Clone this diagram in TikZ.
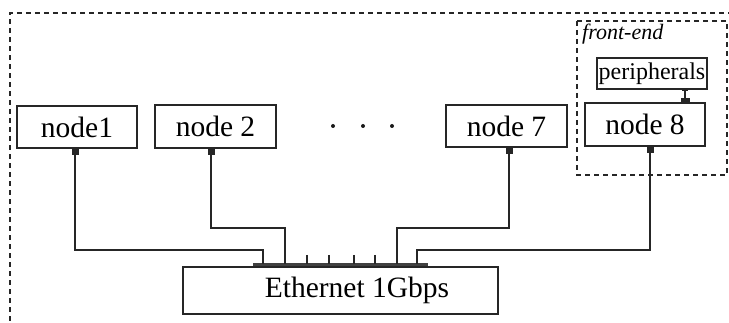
\documentclass[tikz,border=0pt]{standalone}
\usepackage{fontspec}
\setmainfont{Liberation Serif}
\usetikzlibrary{arrows.meta}
\begin{document}
\begin{tikzpicture}[x=1pt,y=-1pt,
  box/.style={draw=black!85, line width=1.4pt, inner sep=0pt, font=\fontsize{29.5}{31}\selectfont},
  smallbox/.style={draw=black!85, line width=1.4pt, inner sep=0pt, font=\fontsize{24}{26}\selectfont},
  frame/.style={draw=black!85, line width=1.3pt, dash pattern=on 5pt off 4pt},
  wire/.style={draw=black!85, line width=1.4pt},
  porttick/.style={draw=black!85, line width=2.2pt},
  busbar/.style={draw=black!75, line width=3pt},
  dotmark/.style={circle, fill=black!90, inner sep=0pt, minimum size=4pt},
  sq/.style={{Square[length=6.5pt,width=7pt]}-}
]
\useasboundingbox (0,0) rectangle (729,323);

% outer dashed frame (extends past the right and bottom edges)
\draw[frame] (10,330) -- (10,13) -- (740,13);
% front-end frame
\draw[frame] (577,21) rectangle (727,175);
\node[anchor=base west, inner sep=0pt, font=\fontsize{22}{24}\selectfont\itshape] (fe) at (582,40) {front-end};

% nodes
\node[box, minimum width=120pt, minimum height=42pt] (n1) at (77,127) {node1};
\node[box, minimum width=121pt, minimum height=43pt] (n2) at (215.5,126.5) {node 2};
\node[box, minimum width=121pt, minimum height=42pt] (n7) at (506.5,126) {node 7};
\node[box, minimum width=120pt, minimum height=43pt] (n8) at (645,124.5) {node 8};
\node[smallbox, minimum width=110pt, minimum height=31pt] (per) at (652,73.5) {peripherals};
\node[box, minimum width=315pt, minimum height=47pt] (eth) at (340.5,290.5) {\hspace*{33pt}Ethernet 1Gbps};

% dots
\node[dotmark] (d1) at (333,126) {};
\node[dotmark] (d2) at (363,126) {};
\node[dotmark] (d3) at (392,126) {};

% switch ports
\draw[busbar] (253,265) -- (428,265);
\foreach \i/\x in {1/263,2/285,3/307,4/329,5/354,6/375,7/397,8/417}{
  \coordinate (p\i) at (\x,264);
  \draw[porttick] (\x,255) -- (p\i);
}

% connectors
\draw[wire, sq] ([xshift=-2pt]n1.south) |- ([yshift=14pt]p1) -- (p1);
\draw[wire, sq] ([xshift=-4.5pt]n2.south) |- ([yshift=36pt]p2) -- (p2);
\draw[wire, sq] ([xshift=2.5pt]n7.south) |- ([yshift=36pt]p7) -- (p7);
\draw[wire, sq] ([xshift=5pt]n8.south) |- ([yshift=14pt]p8) -- (p8);
\draw[wire, {Bar[width=6pt]}-{Square[length=4.5pt,width=9pt]}] ([xshift=33pt]per.south) -- ([xshift=40pt]n8.north);
\end{tikzpicture}
\end{document}
